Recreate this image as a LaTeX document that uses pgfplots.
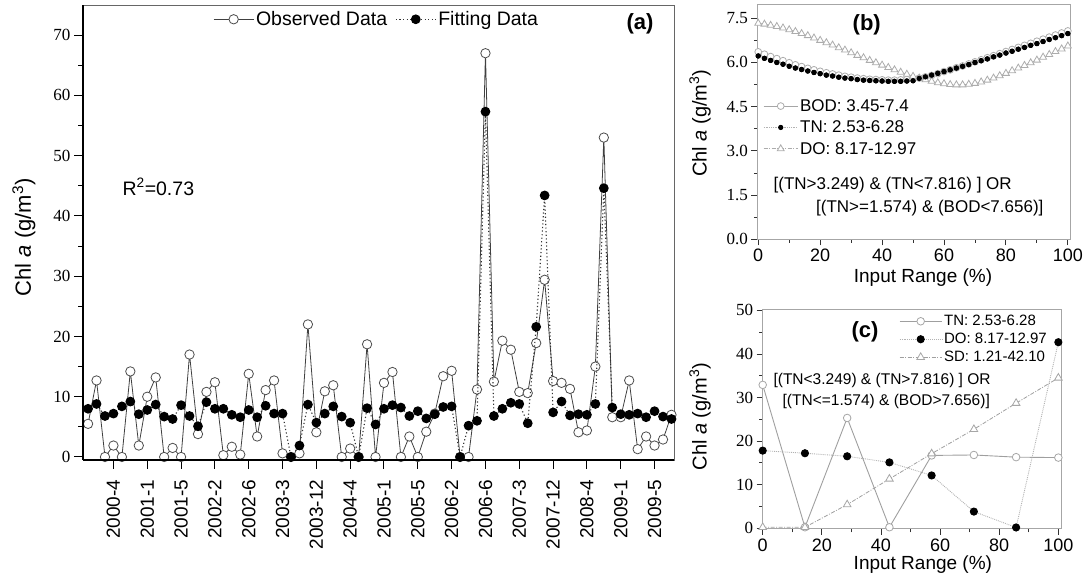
\documentclass[border=0pt]{standalone}
\usepackage{pgfplots}
\pgfplotsset{compat=1.18}
\usepackage{fontspec}
\setmainfont{Liberation Sans}
\newfontfamily\serifnum{Liberation Serif}
\newcommand{\fs}[1]{\fontsize{#1}{#1}\selectfont}

\pgfplotstableread{
i O F
0 5.5 8.0
1 12.7 8.8
2 0 6.8
3 1.9 7.2
4 0 8.4
5 14.2 9.2
6 1.9 7.1
7 10.0 7.8
8 13.2 8.7
9 0 6.7
10 1.5 6.3
11 0 8.6
12 17.0 6.8
13 3.8 5.1
14 10.8 9.1
15 12.4 8.0
16 0.3 8.0
17 1.7 7.0
18 0.4 6.6
19 13.8 7.8
20 3.4 6.6
21 11.1 8.5
22 12.7 7.2
23 0.6 7.2
24 0 0
25 0.6 1.9
26 22.0 8.7
27 4.1 5.7
28 10.9 7.2
29 11.9 8.4
30 0 6.7
31 1.4 5.7
32 0 0
33 18.7 8.1
34 0 5.4
35 12.3 8.0
36 14.1 8.6
37 0 8.2
38 3.4 6.8
39 0 7.6
40 4.2 6.4
41 7.2 7.1
42 13.4 8.3
43 14.3 8.4
44 0 0
45 0 5.2
46 11.2 6.0
47 67.0 57.3
48 12.5 6.8
49 19.3 8.0
50 17.8 9.0
51 10.8 8.8
52 10.6 5.6
53 18.9 21.6
54 29.4 43.4
55 12.6 7.4
56 12.3 9.2
57 11.3 6.9
58 4.1 7.1
59 4.4 7.0
60 15.0 8.8
61 53.0 44.6
62 6.6 8.2
63 6.6 7.1
64 12.7 7.0
65 1.3 7.2
66 3.4 6.6
67 1.9 7.6
68 2.9 6.7
69 7.0 6.3
}\tableA

\pgfplotstableread{
x BOD TN DO
0 6.36 6.22 7.33
2 6.28 6.14 7.30
4 6.20 6.07 7.26
6 6.13 6.00 7.22
8 6.06 5.94 7.17
10 5.99 5.87 7.11
12 5.92 5.81 7.05
14 5.86 5.76 6.98
16 5.80 5.71 6.91
18 5.75 5.66 6.83
20 5.70 5.62 6.75
22 5.65 5.57 6.67
24 5.61 5.54 6.59
26 5.57 5.50 6.50
28 5.53 5.47 6.42
30 5.50 5.45 6.33
32 5.47 5.42 6.24
34 5.45 5.40 6.16
36 5.43 5.39 6.07
38 5.42 5.38 5.99
40 5.41 5.37 5.91
42 5.40 5.36 5.83
44 5.40 5.36 5.75
46 5.41 5.36 5.67
48 5.42 5.37 5.60
50 5.44 5.38 5.53
52 5.47 5.46 5.47
54 5.51 5.51 5.41
56 5.56 5.57 5.36
58 5.62 5.63 5.31
60 5.69 5.69 5.28
62 5.75 5.75 5.25
64 5.82 5.81 5.24
66 5.88 5.87 5.24
68 5.95 5.93 5.26
70 6.02 6.00 5.29
72 6.09 6.06 5.34
74 6.16 6.12 5.40
76 6.23 6.19 5.47
78 6.30 6.25 5.55
80 6.37 6.32 5.63
82 6.44 6.38 5.72
84 6.51 6.45 5.81
86 6.58 6.51 5.90
88 6.65 6.58 5.99
90 6.72 6.64 6.08
92 6.79 6.71 6.18
94 6.86 6.78 6.27
96 6.93 6.84 6.37
98 7.00 6.91 6.46
100 7.07 6.98 6.56
}\tableB

\pgfplotstableread{
x TN DO SD
0 32.9 17.8 0.2
14.2857 0.2 17.2 0.2
28.5714 25.3 16.5 5.4
42.8571 0.2 15.1 11.3
57.1429 16.7 12.1 17.1
71.4286 16.8 3.8 22.7
85.7143 16.3 0.15 28.7
100 16.2 42.7 34.5
}\tableC

\begin{document}
\begin{tikzpicture}
\path[use as bounding box] (0pt,0pt) rectangle (1091pt,583pt);

% ---------------- panel (a)
\begin{axis}[
  at={(83pt,123pt)}, anchor=south west, scale only axis,
  width=591pt, height=455pt, clip mode=individual,
  xmin=-0.6, xmax=69.3, ymin=-0.5, ymax=75,
  axis line style={gray!80!black, line width=0.9pt},
  tick pos=left, tick align=outside,
  major tick length=9pt, minor tick length=5pt,
  tick style={black, line width=1pt},
  xtick={3,7,11,15,19,23,27,31,35,39,43,47,51,55,59,63,67},
  xticklabels={2000-4,2001-1,2001-5,2002-2,2002-6,2003-3,2003-12,2004-4,2005-1,2005-5,2006-2,2006-6,2007-3,2007-12,2008-4,2009-1,2009-5},
  x tick label style={yshift=-7pt, rotate=90, anchor=east, font=\fs{19}},
  ytick={0,10,20,30,40,50,60,70}, minor y tick num=1,
  y tick label style={font=\serifnum\fs{17}},
  /pgf/number format/assume math mode=true,
  legend columns=2,
  legend style={at={(0.215,0.995)}, anchor=north west, draw=none, fill=none,
    font=\fs{19.5}, /tikz/every even column/.append style={column sep=6pt}},
  legend image code/.code={\draw[mark repeat=2,mark phase=2,#1] plot coordinates {(0pt,0pt) (20pt,0pt) (40pt,0pt)};},
]
\addplot[black!75, line width=0.8pt, mark=*, mark size=4.7pt,
  mark options={solid, fill=white, draw=black!70, line width=0.8pt}]
  table[x=i, y=O] {\tableA};
\addlegendentry{Observed Data}
\addplot[black!80, line width=1.1pt, dash pattern=on 1.2pt off 2.4pt, mark=*, mark size=4.3pt,
  mark options={solid, fill=black, draw=black}]
  table[x=i, y=F] {\tableA};
\addlegendentry{Fitting Data}
\draw[black, line width=1.6pt] (axis description cs:0,0) -- (axis description cs:1,0);
\draw[black, line width=1.2pt] (axis description cs:0,0) -- (axis description cs:0,1);
\node[anchor=west, font=\fs{19.5}] at (axis description cs:0.061,0.6) {R\textsuperscript{2}=0.73};
\node[font=\bfseries\fs{22}] at (axis description cs:0.9425,0.958) {(a)};
\node[rotate=90, font=\fs{22}] at (axis description cs:-0.1,0.489) {Chl \textit{a} (g/m\textsuperscript{3})};
\end{axis}

% ---------------- panel (b)
\begin{axis}[
  at={(757.3pt,343.7pt)}, anchor=south west, scale only axis,
  width=312.7pt, height=234.3pt, clip mode=individual,
  xmin=-0.3, xmax=100.7, ymin=0, ymax=7.95,
  axis line style={gray!70, line width=1pt},
  tick pos=left, tick align=outside,
  major tick length=6pt, minor tick length=3.5pt,
  tick style={black!80, line width=0.9pt},
  xtick={0,20,40,60,80,100}, minor x tick num=1,
  ytick={0,1.5,3,4.5,6,7.5}, minor y tick num=1,
  y tick label style={font=\serifnum\fs{17}, /pgf/number format/fixed, /pgf/number format/fixed zerofill, /pgf/number format/precision=1},
  x tick label style={font=\fs{18}},
  /pgf/number format/assume math mode=true,
  legend cell align=left,
  legend style={at={(0.009,0.615)}, anchor=north west, draw=none, fill=none,
    font=\fs{17}, row sep=4pt},
  legend image code/.code={\draw[mark repeat=2,mark phase=2,#1] plot coordinates {(0pt,0pt) (17pt,0pt) (34pt,0pt)};},
]
\addplot[gray!70, line width=0.8pt, mark=*, mark size=3.4pt,
  mark options={solid, fill=white, draw=gray!65, line width=0.8pt}]
  table[x=x, y=BOD] {\tableB};
\addlegendentry{BOD: 3.45-7.4}
\addplot[gray!60, line width=0.8pt, densely dotted, mark=*, mark size=2.2pt,
  mark options={solid, fill=black, draw=black}]
  table[x=x, y=TN] {\tableB};
\addlegendentry{TN: 2.53-6.28}
\addplot[gray!65, line width=0.8pt, dash pattern=on 4pt off 1.5pt on 1pt off 1.5pt, mark=triangle*, mark size=4pt,
  mark options={solid, fill=white, draw=gray!65, line width=0.8pt}]
  table[x=x, y=DO] {\tableB};
\addlegendentry{DO: 8.17-12.97}
\addplot[gray!60, line width=0.8pt, densely dotted, mark=*, mark size=2.2pt,
  mark options={solid, fill=black, draw=black}, forget plot]
  table[x=x, y=TN] {\tableB};
\node[anchor=west, font=\fs{17}] at (axis description cs:0.041,0.232) {[(TN>3.249) \& (TN<7.816) ] OR};
\node[anchor=west, font=\fs{17}] at (axis description cs:0.177,0.132) {[(TN>=1.574) \& (BOD<7.656)]};
\node[font=\bfseries\fs{22}] at (axis description cs:0.35,0.915) {(b)};
\node[rotate=90, font=\fs{20}] at (axis description cs:-0.183,0.496) {Chl \textit{a} (g/m\textsuperscript{3})};
\node[font=\fs{19}] at (axis description cs:0.53,-0.165) {Input Range (\%)};
\end{axis}

% ---------------- panel (c)
\begin{axis}[
  at={(762.7pt,54pt)}, anchor=south west, scale only axis,
  width=298.3pt, height=219pt, clip mode=individual,
  xmin=0, xmax=100.9, ymin=-0.2, ymax=50.1,
  axis line style={gray!70, line width=1pt},
  tick pos=left, tick align=outside,
  major tick length=6pt, minor tick length=3.5pt,
  tick style={black!80, line width=0.9pt},
  xtick={0,20,40,60,80,100}, minor x tick num=1,
  ytick={0,10,20,30,40,50}, minor y tick num=1,
  y tick label style={font=\serifnum\fs{17}},
  x tick label style={font=\fs{18}},
  /pgf/number format/assume math mode=true,
  legend cell align=left,
  legend style={at={(0.447,0.995)}, anchor=north west, draw=none, fill=none,
    font=\fs{15}, row sep=2pt},
  legend image code/.code={\draw[mark repeat=2,mark phase=2,#1] plot coordinates {(0pt,0pt) (21pt,0pt) (42pt,0pt)};},
]
\addplot[gray!75, line width=0.9pt, mark=*, mark size=3.8pt,
  mark options={solid, fill=white, draw=gray!70, line width=0.8pt}]
  table[x=x, y=TN] {\tableC};
\addlegendentry{TN: 2.53-6.28}
\addplot[gray!60, line width=0.9pt, densely dotted, mark=*, mark size=3.6pt,
  mark options={solid, fill=black, draw=black}]
  table[x=x, y=DO] {\tableC};
\addlegendentry{DO: 8.17-12.97}
\addplot[gray!75, line width=0.8pt, dash pattern=on 4pt off 1.5pt on 1pt off 1.5pt, mark=triangle*, mark size=4.4pt,
  mark options={solid, fill=white, draw=gray!70, line width=0.8pt}]
  table[x=x, y=SD] {\tableC};
\addlegendentry{SD: 1.21-42.10}
\node[anchor=west, font=\fs{15.5}] at (axis description cs:0.0245,0.677) {[(TN<3.249) \& (TN>7.816) ] OR};
\node[anchor=west, font=\fs{15.5}] at (axis description cs:0.055,0.581) {[(TN<=1.574) \& (BOD>7.656)]};
\node[font=\bfseries\fs{22}] at (axis description cs:0.343,0.901) {(c)};
\node[rotate=90, font=\fs{20}] at (axis description cs:-0.21,0.513) {Chl \textit{a} (g/m\textsuperscript{3})};
\node[font=\fs{19}] at (axis description cs:0.537,-0.163) {Input Range (\%)};
\end{axis}
\end{tikzpicture}
\end{document}
